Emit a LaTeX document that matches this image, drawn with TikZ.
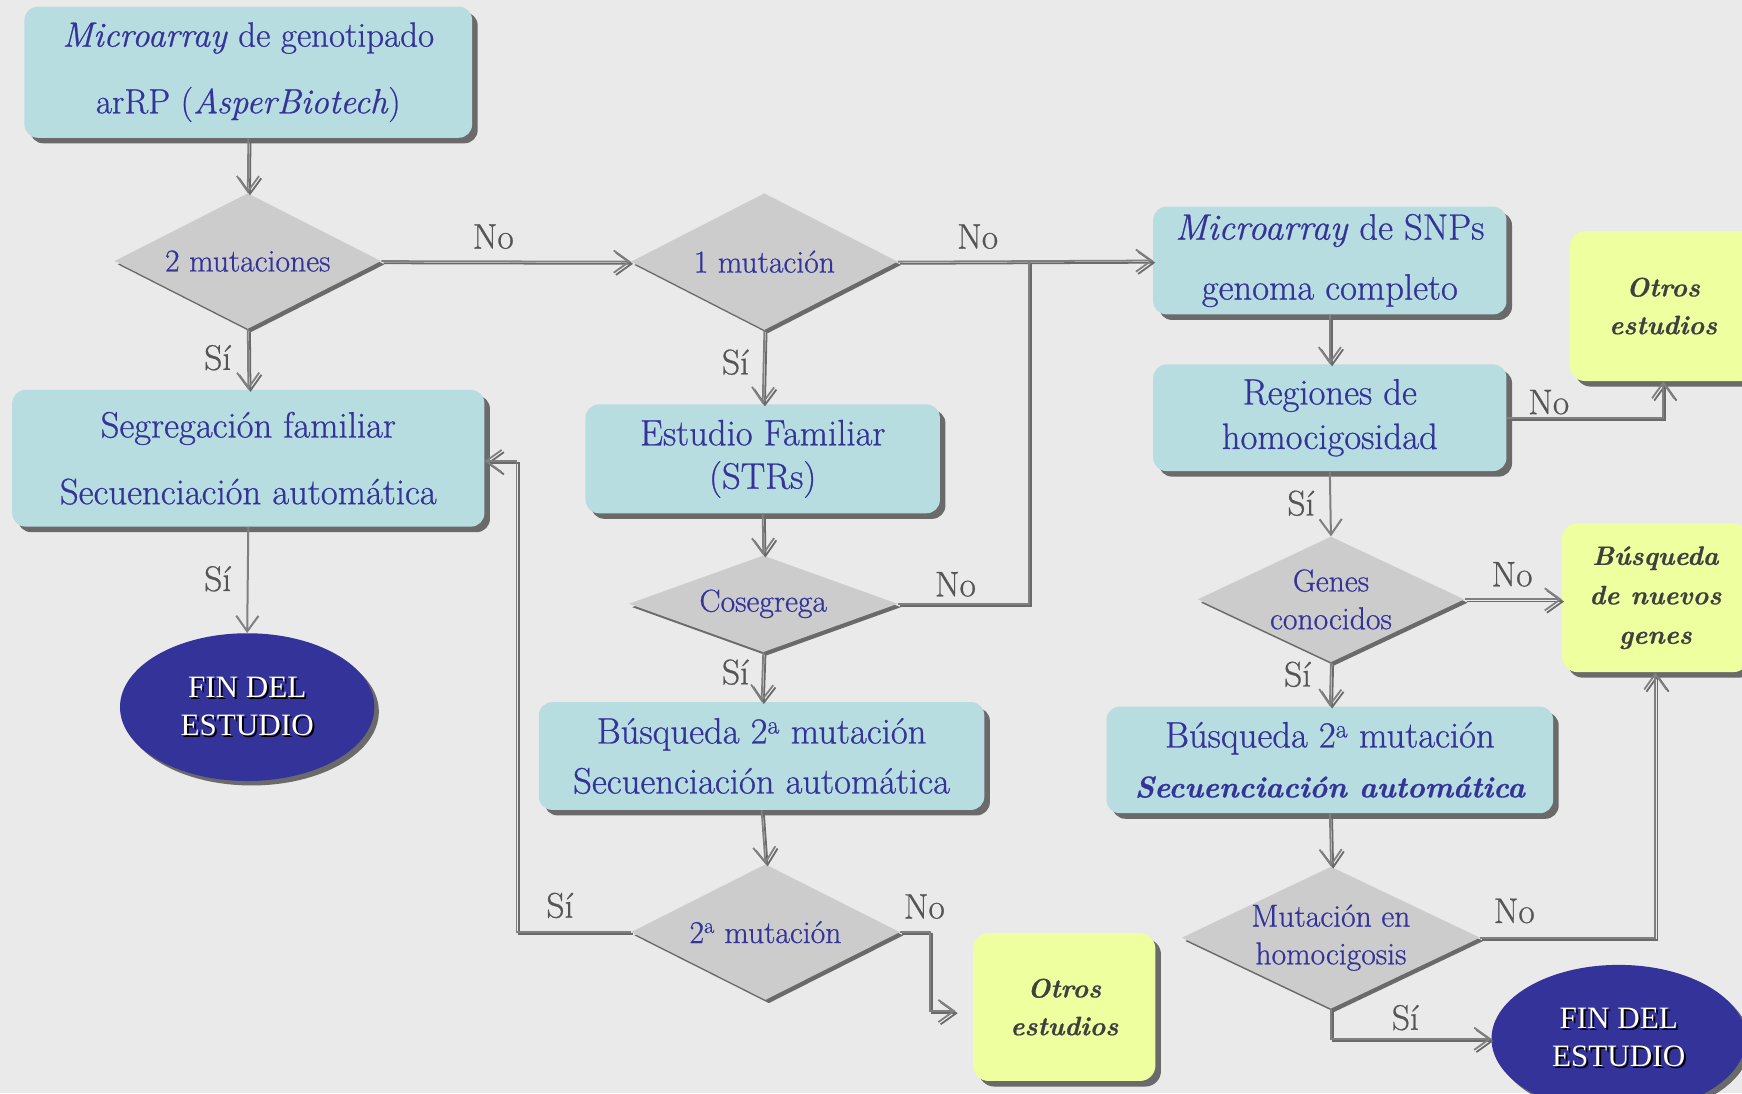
\documentclass[tikz,border=0pt]{standalone}
\usepackage{fontspec}
\setmainfont{Latin Modern Roman}[FakeBold=0.7]
\newfontfamily\timesf{Liberation Serif}
\usetikzlibrary{shapes.geometric,shadows,arrows.meta}
\definecolor{bg}{HTML}{EAEAEA}
\definecolor{boxc}{HTML}{B8DDE1}
\definecolor{yel}{HTML}{EEFFA0}
\definecolor{diac}{HTML}{CCCCCC}
\definecolor{txtb}{HTML}{333399}
\definecolor{ellc}{HTML}{333399}
\definecolor{shad}{HTML}{6A6A6A}
\definecolor{lineg}{HTML}{808080}
\definecolor{lblc}{HTML}{555555}
\definecolor{ytxt}{HTML}{3F3F3F}
\newcommand\shtx[1]{\leavevmode\rlap{\kern1.8pt\raisebox{-1.8pt}{\color{black}#1}}#1}
\begin{document}
\begin{tikzpicture}[x=1pt,y=-1pt,
  box/.style={rectangle, rounded corners=12pt, fill=boxc, text=txtb, align=center, inner sep=0pt,
    drop shadow={shadow xshift=5pt, shadow yshift=-5pt, fill=shad, opacity=1}},
  ybox/.style={rectangle, rounded corners=14pt, fill=yel, text=ytxt, align=center, inner sep=0pt,
    font=\fontsize{24}{34}\selectfont\bfseries\itshape,
    drop shadow={shadow xshift=5pt, shadow yshift=-5pt, fill=shad, opacity=1}},
  dia/.style={diamond, aspect=2.1, fill=diac, text=txtb, align=center, inner sep=0pt,
    font=\fontsize{28.5}{34}\selectfont,
    drop shadow={shadow xshift=3pt, shadow yshift=-3pt, fill=shad, opacity=1}},
  endell/.style={ellipse, fill=ellc, text=white, align=center, inner sep=0pt,
    font=\timesf\fontsize{28}{34}\selectfont,
    drop shadow={shadow xshift=4pt, shadow yshift=-4pt, fill=shad, opacity=1}},
  lbl/.style={text=lblc, font=\fontsize{32}{34}\selectfont, inner sep=0pt},
  wire/.style={draw=lineg, line width=1.6pt,
    preaction={draw=shad, line width=1.6pt, transform canvas={shift={(2pt,-2pt)}}}},
  conn/.style={wire, -{Straight Barb[length=14pt,width=20pt]}},
  thin/.style={draw=lineg, line width=1.8pt, -{Straight Barb[length=14pt,width=20pt]}}
]
\useasboundingbox (0,0) rectangle (1568,984);
\fill[bg] (0,0) rectangle (1568,984);
\clip (0,0) rectangle (1568,984);

% left column
\node[box, minimum width=403pt, minimum height=118pt, font=\fontsize{31.5}{60}\selectfont] (A) at (223.5,65)
  {\textit{Microarray} de genotipado\\arRP (\textit{AsperBiotech})};
\node[dia, minimum width=240pt, minimum height=122pt] (D1) at (223,235) {2 mutaciones};
\node[box, minimum width=425pt, minimum height=123pt, font=\fontsize{33}{60}\selectfont] (B) at (223.5,412.5)
  {Segregación familiar\\Secuenciación automática};
\node[endell, minimum width=229pt, minimum height=133pt] (E1) at (222.5,636.5) {\shtx{FIN DEL}\\\shtx{ESTUDIO}};

% middle column
\node[dia, minimum width=240pt, minimum height=123pt] (D2) at (688,235.5) {1 mutación};
\node[box, minimum width=319pt, minimum height=98pt, font=\fontsize{33}{39}\selectfont] (C) at (686.5,413)
  {Estudio Familiar\\(STRs)};
\node[dia, minimum width=242pt, minimum height=87pt] (D3) at (687,543.5) {Cosegrega};
\node[box, minimum width=401pt, minimum height=97pt, font=\fontsize{33}{45}\selectfont] (F) at (685.5,680.5)
  {Búsqueda 2\textsuperscript{a} mutación\\Secuenciación automática};
\node[dia, minimum width=242pt, minimum height=122pt] (D4) at (689,839) {2\textsuperscript{a} mutación};
\node[ybox, minimum width=164pt, minimum height=133pt] (Y1) at (958,906.5) {Otros\\estudios};

% right column
\node[box, minimum width=318pt, minimum height=97pt, font=\fontsize{33}{54}\selectfont] (G) at (1197,234.5)
  {\textit{Microarray} de SNPs\\genoma completo};
\node[box, minimum width=318pt, minimum height=96pt, font=\fontsize{33}{40}\selectfont] (H) at (1197,376)
  {Regiones de\\homocigosidad};
\node[ybox, minimum width=168pt, minimum height=135pt] (Y2) at (1497,275.5) {Otros\\estudios};
\node[dia, minimum width=240pt, minimum height=113pt] (D5) at (1198,539.5) {Genes\\conocidos};
\node[ybox, minimum width=168pt, minimum height=134pt, font=\fontsize{24}{35.5}\selectfont\bfseries\itshape] (Y3) at (1490,538) {Búsqueda\\de nuevos\\genes};
\node[box, minimum width=402pt, minimum height=96pt, font=\fontsize{33}{45}\selectfont] (I) at (1197,684)
  {Búsqueda 2\textsuperscript{a} mutación\\{\fontsize{27}{45}\selectfont\bfseries\itshape Secuenciación automática}};
\node[dia, minimum width=264pt, minimum height=126pt] (D6) at (1198,844) {Mutación en\\homocigosis};
\node[endell, minimum width=229pt, minimum height=133pt] (E2) at (1457,935) {\shtx{FIN DEL}\\\shtx{ESTUDIO}};

% helper coordinates
\coordinate (J) at (926,235.5);
\coordinate (K1) at (465,415);
\coordinate (K2) at (837,910);
\coordinate (Y1in) at (860,910);

% connectors
\draw[conn] (A.south) -- (D1.north);
\draw[conn] (D1.south) -- (B.north);
\draw[conn] (D1.east) -- (D2.west);
\draw[conn] (D2.east) -- (G.west);
\draw[conn] (D2.south) -- (C.north);
\draw[conn] (C.south) -- (D3.north);
\draw[wire] (D3.east) -| (J);
\draw[conn] (D3.south) -- (F.north);
\draw[conn] (F.south) -- (D4.north);
\draw[conn] (D4.west) -| (K1) -- (K1 -| B.east);
\draw[conn] (D4.east) -| (K2) -- (Y1in);
\draw[thin] (B.south) -- (E1.north);
\draw[conn] (G.south) -- (H.north);
\draw[conn] (H.east) -| (Y2.south);
\draw[thin] (H.south) -- (D5.north);
\draw[conn] (D5.east) -- (D5.east -| Y3.west);
\draw[conn] (D5.south) -- (I.north);
\draw[conn] (I.south) -- (D6.north);
\draw[conn] (D6.east) -| (Y3.south);
\draw[conn] (D6.south) |- (E2.west);

% labels
\node[lbl] (l1) at (196,322) {Sí};
\node[lbl] (l2) at (444,213) {No};
\node[lbl] (l3) at (880,213) {No};
\node[lbl] (l4) at (662,326) {Sí};
\node[lbl] (l5) at (860,526) {No};
\node[lbl] (l6) at (662,605) {Sí};
\node[lbl] (l7) at (504,815) {Sí};
\node[lbl] (l8) at (832,816) {No};
\node[lbl] (l9) at (196,521) {Sí};
\node[lbl] (l10) at (1394,362) {No};
\node[lbl] (l11) at (1171,453) {Sí};
\node[lbl] (l12) at (1361,517) {No};
\node[lbl] (l13) at (1168,607) {Sí};
\node[lbl] (l14) at (1363,820) {No};
\node[lbl] (l15) at (1265,916) {Sí};
\end{tikzpicture}
\end{document}
